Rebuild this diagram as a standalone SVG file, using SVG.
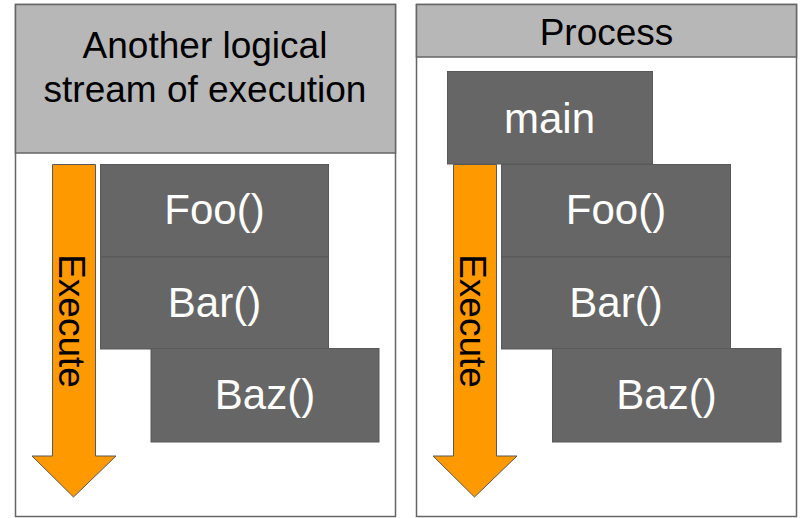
<svg xmlns="http://www.w3.org/2000/svg" width="800" height="518" viewBox="0 0 800 518">
  <style>
    .panel { fill: #ffffff; stroke: #666666; stroke-width: 1.5; }
    .header { fill: #b7b7b7; stroke: #666666; stroke-width: 1.5; }
    .frame { fill: #666666; stroke: #595959; stroke-width: 1; }
    .arrow { fill: #ff9900; stroke: #595959; stroke-width: 1; }
    .title { font-family: "Liberation Sans", Arial, sans-serif; font-size: 37px; fill: #000000; text-anchor: middle; }
    .fn { font-family: "Liberation Sans", Arial, sans-serif; font-size: 42px; fill: #ffffff; text-anchor: middle; }
    .exec { font-family: "Liberation Sans", Arial, sans-serif; font-size: 37px; fill: #000000; text-anchor: middle; }
  </style>

  <!-- Left panel: another logical stream of execution -->
  <g id="thread-panel">
    <rect class="panel" x="15.5" y="4.5" width="380" height="512"/>
    <rect class="header" x="15.5" y="4.5" width="380" height="148.5"/>
    <text class="title" x="205" y="58">Another logical</text>
    <text class="title" x="205" y="102">stream of execution</text>
  </g>
  <g id="thread-execute">
    <path class="arrow" d="M52.5,164.5 H95.5 V456 H116 L73.5,497 L32,456 H52.5 Z"/>
    <text class="exec" transform="translate(59,321) rotate(90)">Execute</text>
  </g>
  <g id="thread-foo">
    <rect class="frame" x="100.5" y="164.5" width="228" height="92.5"/>
    <text class="fn" x="214.5" y="224">Foo()</text>
  </g>
  <g id="thread-bar">
    <rect class="frame" x="100.5" y="257" width="228" height="92"/>
    <text class="fn" x="214.5" y="317">Bar()</text>
  </g>
  <g id="thread-baz">
    <rect class="frame" x="151" y="348.5" width="228" height="93.5"/>
    <text class="fn" x="265" y="409">Baz()</text>
  </g>

  <!-- Right panel: process -->
  <g id="process-panel">
    <rect class="panel" x="416.5" y="4.5" width="380" height="512"/>
    <rect class="header" x="416.5" y="4.5" width="380" height="52.5"/>
    <text class="title" x="606.5" y="45">Process</text>
  </g>
  <g id="process-execute">
    <path class="arrow" d="M453.5,164.5 H496.5 V456 H517 L474.5,497 L433,456 H453.5 Z"/>
    <text class="exec" transform="translate(460,321) rotate(90)">Execute</text>
  </g>
  <g id="process-main">
    <rect class="frame" x="447.5" y="71.5" width="205" height="92.5"/>
    <text class="fn" x="549.5" y="133">main</text>
  </g>
  <g id="process-foo">
    <rect class="frame" x="501.5" y="164.5" width="229" height="92.5"/>
    <text class="fn" x="616" y="224">Foo()</text>
  </g>
  <g id="process-bar">
    <rect class="frame" x="501.5" y="257" width="229" height="92"/>
    <text class="fn" x="616" y="317">Bar()</text>
  </g>
  <g id="process-baz">
    <rect class="frame" x="552.5" y="348.5" width="228.5" height="93.5"/>
    <text class="fn" x="666.5" y="409">Baz()</text>
  </g>

  <g id="connectors"></g>
</svg>
